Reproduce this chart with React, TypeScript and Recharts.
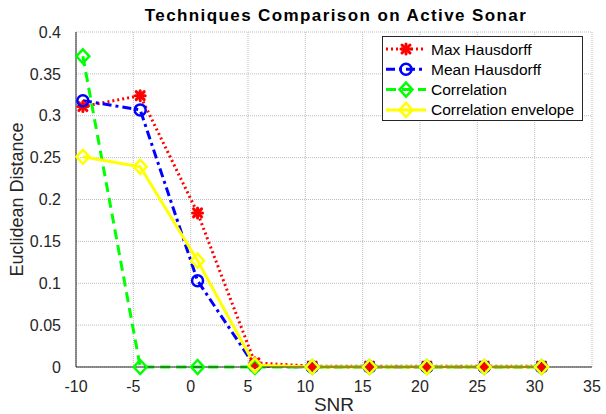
import React from 'react';
import {
  ComposedChart,
  Line,
  XAxis,
  YAxis,
  CartesianGrid,
  Legend,
} from 'recharts';

// SNR values (x)
const snr = [-9.4, -4.4, 0.6, 5.6, 10.6, 15.6, 20.6, 25.6, 30.6];

// Euclidean distance per technique
const maxHausdorff = [0.311, 0.324, 0.184, 0.005, 0.001, 0.001, 0.001, 0.001, 0.001];
const meanHausdorff = [0.318, 0.307, 0.103, 0.001, 0, 0, 0, 0, 0];
const correlation = [0.371, 0, 0, 0, 0, 0, 0, 0, 0];
const correlationEnvelope = [0.251, 0.239, 0.127, 0.002, 0, 0, 0, 0, 0];

const xTicks = [-10, -5, 0, 5, 10, 15, 20, 25, 30, 35];
const yTicks = [0, 0.05, 0.1, 0.15, 0.2, 0.25, 0.3, 0.35, 0.4];

const FONT = '"Liberation Sans", Arial, Helvetica, sans-serif';
const AXIS_COLOR = '#262626';

const data = snr.map((s, i) => ({
  snr: s,
  maxH: maxHausdorff[i],
  meanH: meanHausdorff[i],
  corr: correlation[i],
  env: correlationEnvelope[i],
}));

// marker shapes (MATLAB-like)
const StarMarker = ({ cx, cy, color }: any) => (
  <g stroke={color} strokeWidth={3} strokeLinecap="round">
    <line x1={cx - 5} y1={cy} x2={cx + 5} y2={cy} />
    <line x1={cx} y1={cy - 5} x2={cx} y2={cy + 5} />
    <line x1={cx - 4} y1={cy - 4} x2={cx + 4} y2={cy + 4} />
    <line x1={cx - 4} y1={cy + 4} x2={cx + 4} y2={cy - 4} />
  </g>
);

const CircleMarker = ({ cx, cy, color }: any) => (
  <circle cx={cx} cy={cy} r={5.5} fill="none" stroke={color} strokeWidth={2.5} />
);

const DiamondMarker = ({ cx, cy, color }: any) => (
  <path
    d={`M${cx},${cy - 7} L${cx + 6.5},${cy} L${cx},${cy + 7} L${cx - 6.5},${cy} Z`}
    fill="none"
    stroke={color}
    strokeWidth={2.5}
  />
);

const series = [
  { key: 'maxH', name: 'Max Hausdorff', color: '#ff0000', dash: '2 3', marker: StarMarker },
  { key: 'meanH', name: 'Mean Hausdorff', color: '#0000ff', dash: '9 4 3 4', marker: CircleMarker },
  { key: 'corr', name: 'Correlation', color: '#00ff00', dash: '10 6', marker: DiamondMarker },
  { key: 'env', name: 'Correlation envelope', color: '#ffff00', dash: undefined, marker: DiamondMarker },
];

const LegendBox = () => (
  <svg width={202} height={86} style={{ display: 'block' }}>
    <rect x={0.5} y={0.5} width={200} height={84} fill="#fff" stroke={AXIS_COLOR} strokeWidth={1} />
    {series.map((s, i) => {
      const y = 13 + i * 20.3;
      const M = s.marker;
      return (
        <g key={s.key}>
          <line x1={4} y1={y} x2={44} y2={y} stroke={s.color} strokeWidth={3} strokeDasharray={s.dash} />
          <M cx={24} cy={y} color={s.color} />
          <text x={49} y={y + 5.5} fontSize={15.5} fontFamily={FONT} fill="#000">
            {s.name}
          </text>
        </g>
      );
    })}
  </svg>
);

export default function App() {
  return (
    <div style={{ position: 'absolute', left: 0, top: 0, width: 606, height: 414, background: '#fff' }}>
      <div
        style={{
          position: 'absolute',
          left: 36,
          width: 600,
          top: 6,
          textAlign: 'center',
          fontFamily: FONT,
          fontWeight: 'bold',
          fontSize: 17,
          letterSpacing: 1.4,
          color: '#000',
        }}
      >
        Techniques Comparison on Active Sonar
      </div>
      <ComposedChart
        width={606}
        height={414}
        data={data}
        margin={{ top: 32, right: 14, left: 0, bottom: 0 }}
      >
        <CartesianGrid stroke="#bdbdbd" strokeDasharray="1 1" />
        <XAxis
          dataKey="snr"
          type="number"
          domain={[-10, 35]}
          ticks={xTicks}
          interval={0}
          height={47}
          tickLine={false}
          tickMargin={8}
          stroke={AXIS_COLOR}
          tick={{ fill: AXIS_COLOR, fontSize: 16, fontFamily: FONT }}
          label={{
            value: 'SNR',
            position: 'insideBottom',
            offset: 3,
            style: { fill: AXIS_COLOR, fontSize: 19, fontFamily: FONT },
          }}
        />
        <YAxis
          type="number"
          domain={[0, 0.4]}
          ticks={yTicks}
          interval={0}
          width={76}
          tickLine={false}
          tickMargin={9}
          stroke={AXIS_COLOR}
          tickFormatter={(v: number) => String(Number(v.toFixed(2)))}
          tick={{ fill: AXIS_COLOR, fontSize: 16, fontFamily: FONT }}
          label={{
            value: 'Euclidean Distance',
            angle: -90,
            position: 'insideLeft',
            offset: 17,
            style: { fill: AXIS_COLOR, fontSize: 18, fontFamily: FONT, textAnchor: 'middle' },
          }}
        />
        <Legend
          layout="horizontal"
          verticalAlign="middle"
          align="center"
          content={() => <LegendBox />}
          wrapperStyle={{ position: 'absolute', left: 382, top: 36, width: 202, height: 86 }}
        />
        {series.map((s) => {
          const M = s.marker;
          return (
            <Line
              key={s.key}
              type="linear"
              dataKey={s.key}
              name={s.name}
              stroke={s.color}
              strokeWidth={3}
              strokeDasharray={s.dash}
              isAnimationActive={false}
              dot={(p: any) => <M key={`${s.key}-${p.index}`} cx={p.cx} cy={p.cy} color={s.color} />}
              activeDot={false}
            />
          );
        })}
      </ComposedChart>
    </div>
  );
}
